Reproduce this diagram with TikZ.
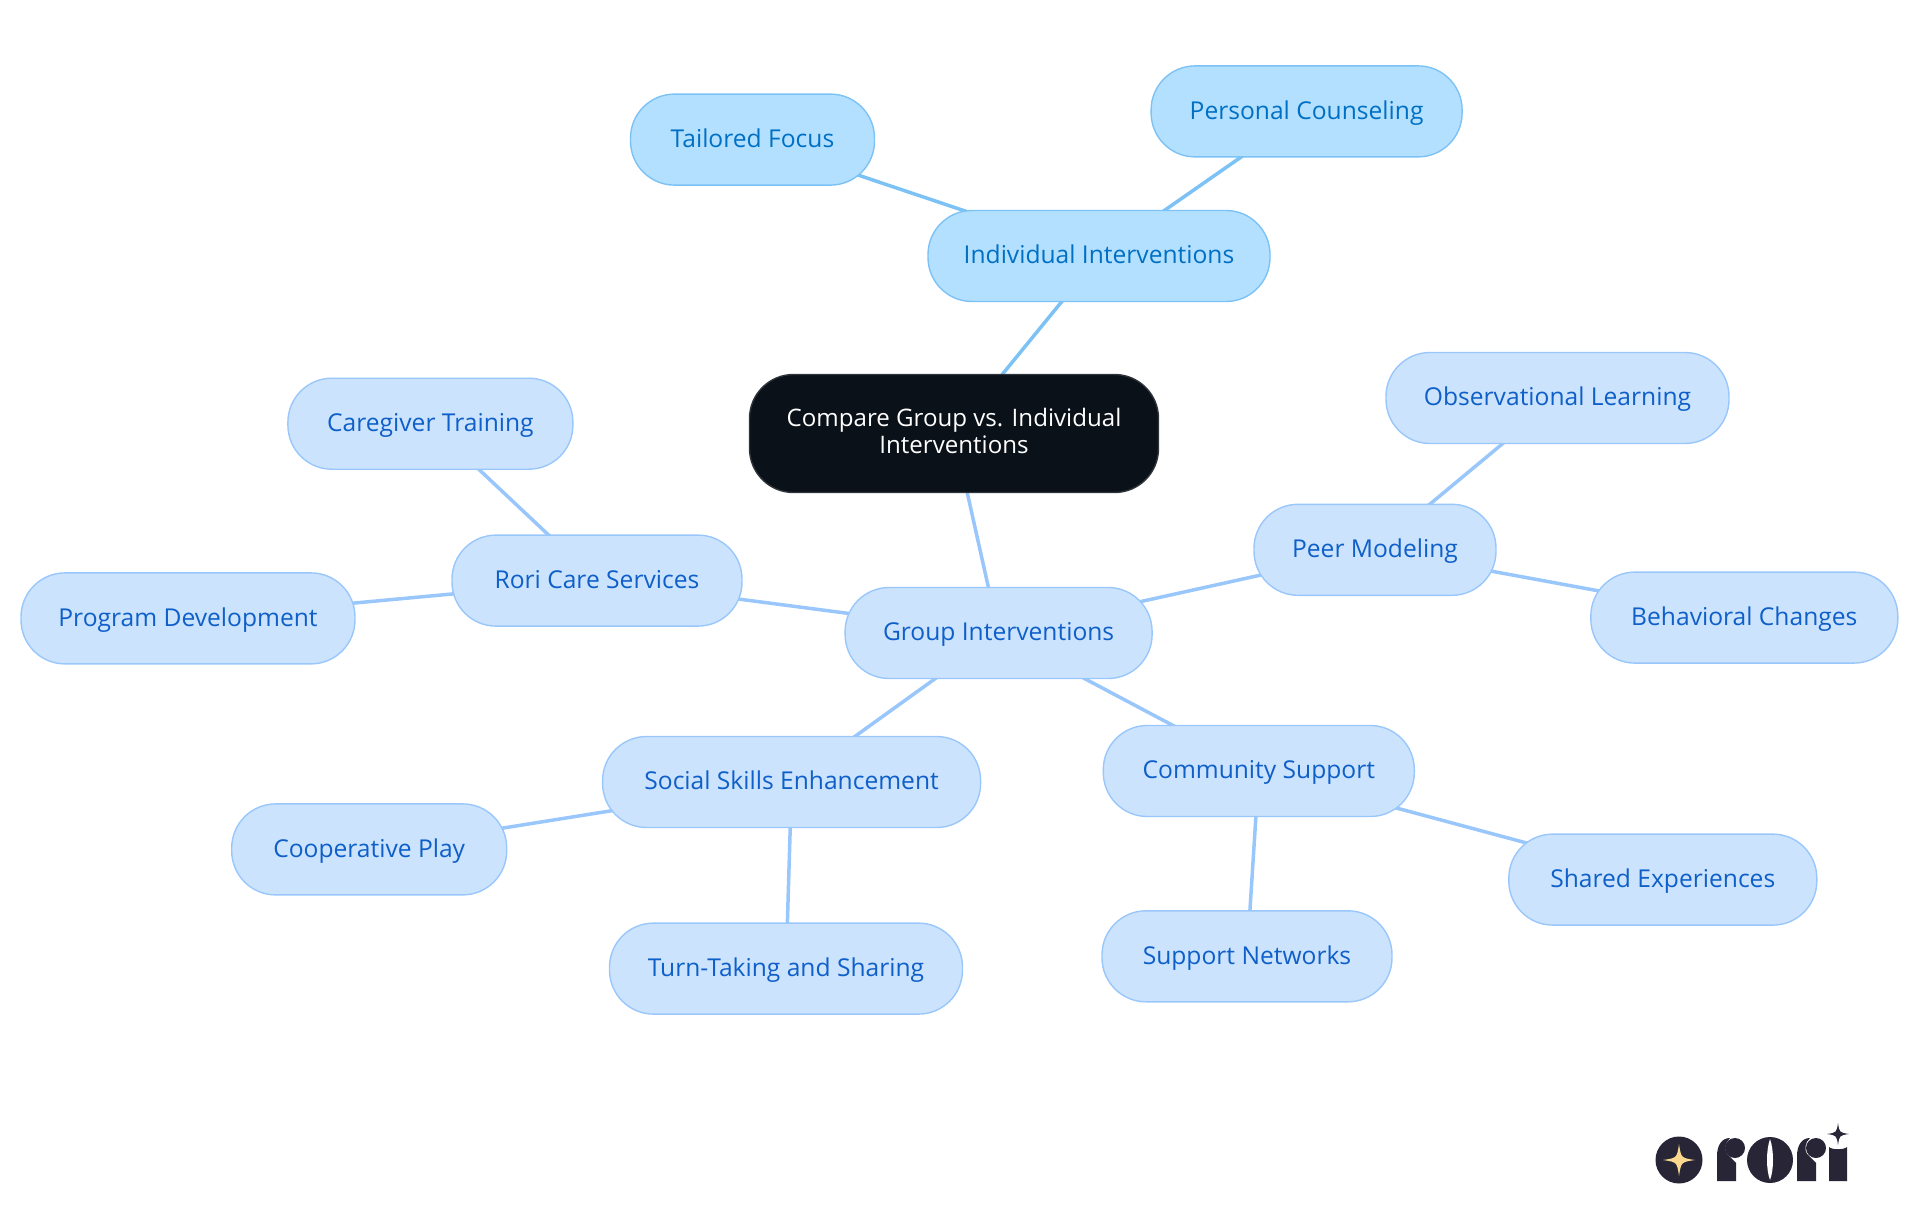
\documentclass[tikz,border=0pt]{standalone}
\usepackage{fontspec}
\setmainfont{Open Sans}
\usetikzlibrary{backgrounds}
\definecolor{rootfill}{HTML}{0B1119}
\definecolor{groupfill}{HTML}{CCE3FD}
\definecolor{groupline}{HTML}{99C7FB}
\definecolor{grouptext}{HTML}{0E5FC8}
\definecolor{indivfill}{HTML}{B4E0FF}
\definecolor{indivline}{HTML}{7CC2F5}
\definecolor{indivtext}{HTML}{0070C4}
\definecolor{logodark}{HTML}{272536}
\definecolor{logostar}{HTML}{FAD98E}
\newcommand{\fourstar}[4]{\fill[#4] (#1+#3,#2) .. controls (#1+0.13*#3,#2+0.13*#3) .. (#1,#2+#3) .. controls (#1-0.13*#3,#2+0.13*#3) .. (#1-#3,#2) .. controls (#1-0.13*#3,#2-0.13*#3) .. (#1,#2-#3) .. controls (#1+0.13*#3,#2-0.13*#3) .. cycle;}
\begin{document}
\begin{tikzpicture}[x=1pt, y=-1pt,
		box/.style = {draw, line width=1.4pt, rectangle, rounded corners=44pt, minimum height=91pt, inner sep=0pt, font=\fontsize{24.6}{27}\selectfont, align=center, text height=22pt, text depth=6.6pt},
		root/.style = {box, fill=rootfill, draw=rootfill!85!white, text=white, font=\fontsize{24.1}{27}\selectfont, text height=45pt, text depth=6pt},
		group/.style = {box, fill=groupfill, draw=groupline, text=grouptext},
		indiv/.style = {box, fill=indivfill, draw=indivline, text=indivtext},
		groupedge/.style = {draw=groupline, line width=3.5pt},
		indivedge/.style = {draw=indivline, line width=3.5pt}]
	\useasboundingbox (0,0) rectangle (1920,1215);
	\node[root, minimum width=409pt, minimum height=118pt] (root) at (954,433.5) {Compare Group vs. Individual\\Interventions};
	\node[indiv, minimum width=342pt] (individual) at (1099,256) {Individual Interventions};
	\node[indiv, minimum width=244pt] (tailored) at (752.5,139.6) {Tailored Focus};
	\node[indiv, minimum width=311pt] (personal) at (1306.6,111.4) {Personal Counseling};
	\node[group, minimum width=307pt] (grp) at (998.6,633) {Group Interventions};
	\node[group, minimum width=290pt] (rori) at (597,580.6) {Rori Care Services};
	\node[group, minimum width=285pt] (caregiver) at (430.4,423.7) {Caregiver Training};
	\node[group, minimum width=334pt] (program) at (188,618.4) {Program Development};
	\node[group, minimum width=242pt] (peer) at (1375,549.8) {Peer Modeling};
	\node[group, minimum width=343pt] (observational) at (1557.5,398) {Observational Learning};
	\node[group, minimum width=307pt] (behavioral) at (1744.3,617.6) {Behavioral Changes};
	\node[group, minimum width=378pt] (social) at (791.6,782) {Social Skills Enhancement};
	\node[group, minimum width=275pt] (cooperative) at (369.2,849.4) {Cooperative Play};
	\node[group, minimum width=353pt] (turn) at (786,968.6) {Turn-Taking and Sharing};
	\node[group, minimum width=311pt] (community) at (1258.8,771) {Community Support};
	\node[group, minimum width=308pt] (shared) at (1662.8,879.6) {Shared Experiences};
	\node[group, minimum width=290pt] (support) at (1247,956.3) {Support Networks};
	\begin{scope}[on background layer]
		\draw[indivedge] (root.center) -- (individual.center);
		\draw[indivedge] (individual.center) -- (tailored.center);
		\draw[indivedge] (individual.center) -- (personal.center);
		\draw[groupedge] (root.center) -- (grp.center);
		\draw[groupedge] (grp.center) -- (rori.center);
		\draw[groupedge] (rori.center) -- (caregiver.center);
		\draw[groupedge] (rori.center) -- (program.center);
		\draw[groupedge] (grp.center) -- (peer.center);
		\draw[groupedge] (peer.center) -- (observational.center);
		\draw[groupedge] (peer.center) -- (behavioral.center);
		\draw[groupedge] (grp.center) -- (social.center);
		\draw[groupedge] (social.center) -- (cooperative.center);
		\draw[groupedge] (social.center) -- (turn.center);
		\draw[groupedge] (grp.center) -- (community.center);
		\draw[groupedge] (community.center) -- (shared.center);
		\draw[groupedge] (community.center) -- (support.center);
	\end{scope}
	% logo
	\fill[logodark] (1679,1160) circle (23.5);
	\fourstar{1679}{1160}{16}{logostar}
	\fill[logodark] (1717,1181) -- (1717,1156) .. controls (1717,1145) and (1722,1138) .. (1730,1138) .. controls (1725,1142) and (1724,1150) .. (1727,1154) -- (1736,1163) -- (1736,1181) -- cycle;
	\fill[logodark] (1735,1148) circle (10);
	\fill[logodark] (1770,1160) circle (23);
	\fill[white] (1770,1139) .. controls (1766,1150) and (1766,1170) .. (1770,1180) .. controls (1774,1170) and (1774,1150) .. (1770,1139) -- cycle;
	\fill[logodark] (1797,1181) -- (1797,1156) .. controls (1797,1145) and (1802,1138) .. (1810,1138) .. controls (1805,1142) and (1804,1150) .. (1807,1154) -- (1816,1163) -- (1816,1181) -- cycle;
	\fill[logodark] (1816,1148) circle (10);
	\fill[logodark] (1829,1181) -- (1829,1147) .. controls (1832,1150) and (1844,1150) .. (1847,1147) -- (1847,1181) -- cycle;
	\fourstar{1838}{1134}{11}{logodark}
\end{tikzpicture}
\end{document}
